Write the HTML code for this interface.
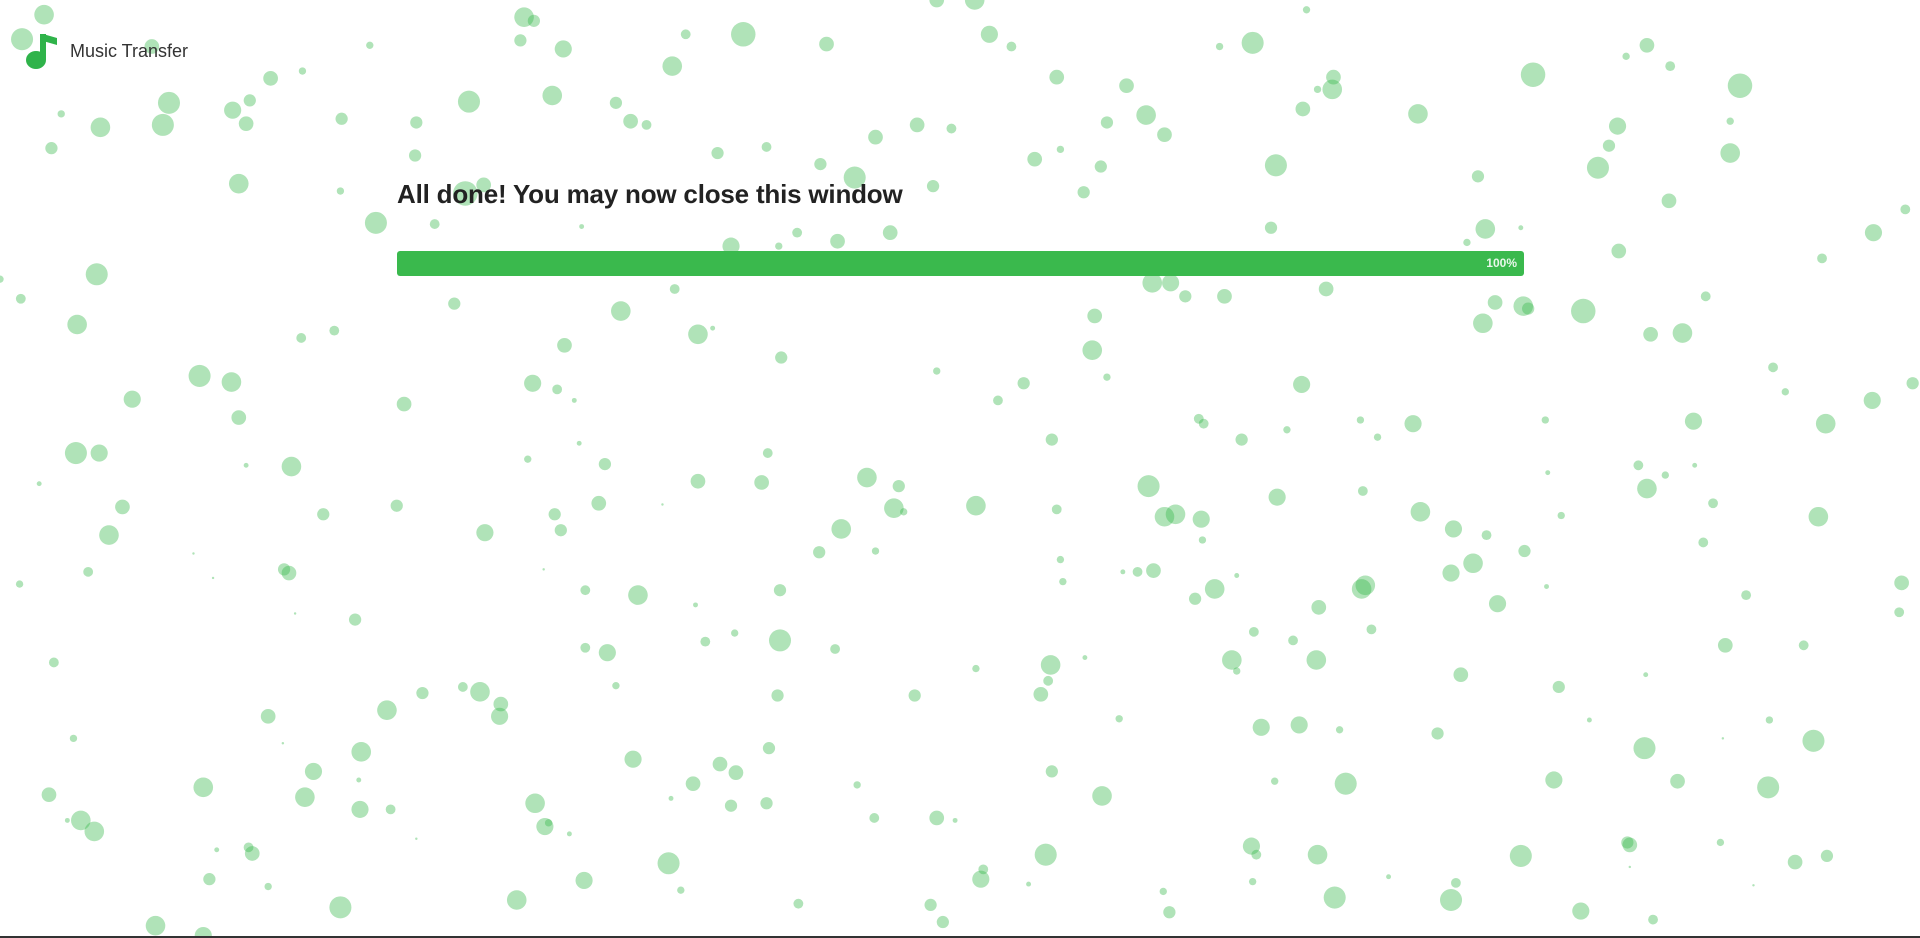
<!DOCTYPE html>
<html><head><meta charset="utf-8"><style>
html,body{margin:0;padding:0;width:1920px;height:938px;overflow:hidden;background:#fff;font-family:"Liberation Sans",sans-serif}
#bubbles{position:absolute;left:0;top:0}
.logo{position:absolute;left:26px;top:32px;display:flex;align-items:center}
.logo span{font-size:18px;color:#333;margin-left:12px}
h1{position:absolute;left:397px;top:179px;margin:0;font-size:26px;font-weight:bold;color:#222;letter-spacing:-0.2px}
.bar{position:absolute;left:397px;top:251px;width:1127px;height:25px;background:#3ab94d;border-radius:3px}
.bar span{position:absolute;right:7px;top:5px;font-size:12px;font-weight:bold;color:#e8f7ea}
.bottom{position:absolute;left:0;top:936px;width:1920px;height:2px;background:#333}
</style></head><body>
<svg id="bubbles" width="1920" height="938"></svg>
<div class="logo">
<svg width="32" height="38" viewBox="0 0 32 38"><ellipse cx="10" cy="28" rx="10" ry="9" fill="#2fb34a"/><rect x="14" y="2" width="6" height="26" fill="#2fb34a"/><path d="M17 2 L31 6 L31 13 L17 9 Z" fill="#2fb34a"/></svg>
<span>Music Transfer</span></div>
<h1>All done! You may now close this window</h1>
<div class="bar"><span>100%</span></div>
<div class="bottom"></div>
<script>
const bx=[36,18,124,428,436,460,425,607,675,808,826,796,765,1023,996,1067,1089,1088,1076,1252,1421,1345,1364,1328,138,133,82,42,50,190,201,204,221,247,302,279,383,340,451,503,515,528,549,560,863,920,936,951,904,749,777,715,1064,1158,1321,1413,1413,1305,1314,1363,1207,1042,195,278,339,380,395,307,355,586,626,670,698,762,845,866,899,885,1556,1530,1488,1322,1213,1198,1242,1038,79,17,63,0,246,273,371,475,597,636,651,684,727,551,507,570,582,461,638,941,956,968,1000,1083,1221,1244,1248,1211,1293,1348,1374,1393,894,892,1448,1458,1529,1562,163,189,108,195,62,81,238,201,32,100,89,72,16,330,435,455,469,765,815,836,904,1063,979,983,1014,1051,1111,1125,1154,1262,1383,1491,859,473,494,431,627,570,622,708,734,730,738,797,863,938,951,960,981,982,1043,1113,1160,1187,1214,1245,1275,1264,1338,1345,1360,1384,1399,1485,1391,324,264,453,458,489,396,541,687,669,715,232,236,158,444,174,241,290,478,521,568,637,866,868,917,929,942,976,992,1010,1112,1115,1077,1185,1203,1223,1263,1426,1553,1551,44,478,496,576,600,637,682,797,858,856,886,1006,1010,1024,1056,1075,1120,1193,1344,1409,1473,392,378,345,409,408,316,219,60,231,503,635,747,850,914,1030,1061,1094,1174,1273,1445,1481,1343,1298,295,256,166,249,294,319,40,66,77,55,293,517,588,601,628,566,548,597,626,437,445,448,465,700,714,765,780,859,900,1041,1099,1269,1370,1444,1407,203,206,177,171,219,340,278,127,166,422,477,546,556,652,760,770,801,803,840,854,950,955,1022,1026,1023,1076,1090,1134,1189,1185,1242,1291,1329,1331,1350,1405,1432,1466,1492,1331];
const by=[12,32,38,14,17,40,33,28,36,28,38,0,0,35,38,8,63,73,73,61,70,37,54,46,84,102,104,121,93,90,101,82,64,58,37,97,83,100,78,84,99,102,54,28,63,70,94,110,100,102,105,112,89,93,103,99,125,137,119,164,144,135,150,156,127,158,151,182,183,125,120,134,145,152,130,122,136,157,171,190,211,205,187,198,186,186,224,244,265,228,276,270,248,185,201,201,190,197,190,236,254,273,268,282,292,231,231,242,242,236,247,250,252,264,254,273,272,242,258,286,300,320,327,313,307,312,326,341,370,370,381,380,395,414,437,467,477,330,313,318,327,303,327,313,308,314,342,346,359,351,343,357,346,343,344,346,359,362,379,375,370,393,394,390,397,415,418,413,416,397,422,420,424,441,406,401,418,432,437,450,421,386,380,399,388,380,411,422,443,413,420,420,433,411,435,412,432,451,450,465,468,452,465,472,501,506,482,486,494,482,457,475,467,467,466,489,481,470,481,478,496,468,460,493,479,486,476,500,541,529,533,524,517,523,530,546,543,556,537,539,548,516,523,539,514,551,551,527,527,565,561,566,575,585,580,585,603,607,560,568,568,567,587,594,592,596,599,561,588,605,611,588,614,630,643,651,661,661,649,670,679,670,637,620,624,631,611,640,652,658,656,656,675,672,681,641,668,668,670,630,650,638,640,637,638,643,603,692,697,694,718,724,685,741,756,764,735,719,705,727,738,739,753,718,710,722,698,728,745,691,698,720,698,733,716,721,735,699,744,688,690,751,688,723,704,699,708];
const br=[8,9,6,8,5,7,5,10,6,7,4,8,6,9,3,3,6,8,3,10,10,6,4,3,9,9,8,5,3,7,6,5,6,3,3,5,9,5,8,5,6,4,8,4,6,6,8,6,5,6,4,6,6,8,7,3,8,9,5,6,5,9,8,3,5,10,6,9,4,5,4,5,9,5,6,3,5,5,4,7,4,6,8,3,2,5,9,4,8,3,4,4,5,2,7,3,4,6,6,4,8,8,2,6,5,8,7,5,6,6,6,8,5,8,10,6,8,4,6,8,4,3,7,5,9,8,7,6,9,7,8,2,2,6,8,4,3,6,7,4,2,3,4,5,3,7,4,4,5,3,3,3,7,3,7,8,5,2,5,3,4,6,6,8,5,8,3,8,4,9,8,8,7,3,7,4,8,7,4,5,3,2,4,8,3,2,4,8,4,5,5,5,5,6,7,1,8,5,3,5,6,1,1,1,1,5,4,8,2,5,3,3,2,4,6,5,8,2,8,8,6,7,8,7,2,4,6,4,4,4,7,4,3,9,4,3,8,4,2,8,3,4,4,8,4,6,2,6,4,8,4,5,6,7,8,6,3,1,3,5,5,6,3,7,7,3,5,5,3,9,9,2,8,7,8,8,7,4,6,8,8,2,2,7,6,6,5,6,2,5,5,8,7,3,2,3,4,6,2,5,8,3,9,7,6,9,1,4,6,2,5,3,1,9,8,7,8,7,9,3,4,5,5,7,4,2,9,3,5,7,4,3,8,9,2,4,9,9,7,5,6,4,3,1,6,5,1];
const s=1920/1568;
const svg=document.getElementById('bubbles');
for(let i=0;i<bx.length;i++){
  const c=document.createElementNS('http://www.w3.org/2000/svg','circle');
  c.setAttribute('cx',bx[i]*s);c.setAttribute('cy',by[i]*s);c.setAttribute('r',br[i]*s);
  c.setAttribute('fill','rgba(58,185,77,0.4)');
  
  
  svg.appendChild(c);
}
</script>
</body></html>
